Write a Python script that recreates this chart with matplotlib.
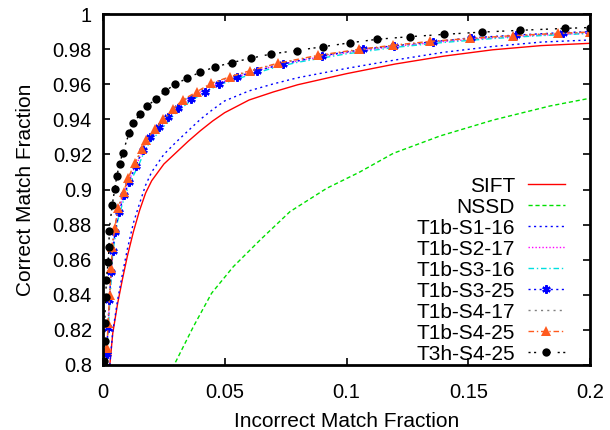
import matplotlib
matplotlib.use("Agg")
import matplotlib.pyplot as plt
from matplotlib.ticker import FuncFormatter, MultipleLocator

plt.rcParams['font.family'] = ['Liberation Sans', 'DejaVu Sans']

# ---------------- data ----------------
grid_x = [0.0015, 0.002, 0.003, 0.004, 0.006, 0.008, 0.01, 0.0125, 0.015, 0.0175,
          0.02, 0.025, 0.03, 0.035, 0.04, 0.045, 0.05, 0.06, 0.07, 0.08,
          0.1, 0.12, 0.14, 0.16, 0.18, 0.2]

sift_x = [0.0028, 0.004, 0.006, 0.008, 0.01, 0.0125, 0.015, 0.0175, 0.02, 0.025,
          0.03, 0.035, 0.04, 0.045, 0.05, 0.06, 0.07, 0.08, 0.1, 0.12, 0.14, 0.16, 0.18, 0.2]
sift_y = [0.800, 0.818, 0.835, 0.849, 0.862, 0.876, 0.888, 0.898, 0.905, 0.9145,
          0.921, 0.9275, 0.9335, 0.939, 0.9438, 0.951, 0.9556, 0.9597, 0.9660, 0.9715,
          0.9760, 0.9796, 0.9820, 0.9833]

t1s1_y = [0.800, 0.819, 0.837, 0.852, 0.866, 0.881, 0.892, 0.9025, 0.910, 0.920,
          0.927, 0.9335, 0.940, 0.9455, 0.9505, 0.9562, 0.9602, 0.9637, 0.9690, 0.9738,
          0.9782, 0.9815, 0.9840, 0.9852]

nssd_x = [0.0285, 0.0292, 0.0371, 0.0446, 0.0535, 0.0645, 0.0768, 0.0919, 0.1055,
          0.1192, 0.1384, 0.1603, 0.1836, 0.2]
nssd_y = [0.798, 0.800, 0.8218, 0.8409, 0.856, 0.8712, 0.8874, 0.9007, 0.9100,
          0.9206, 0.9305, 0.9396, 0.9476, 0.952]

# cluster lines on grid_x
t1s2_y = [0.806, 0.820, 0.844, 0.868, 0.886, 0.895, 0.903, 0.911, 0.918, 0.9258,
          0.9303, 0.938, 0.9458, 0.9512, 0.9555, 0.9592, 0.9620, 0.9664, 0.9703, 0.9733,
          0.9780, 0.9816, 0.9843, 0.9864, 0.9880, 0.9891]
t1s3_16_y = [0.803, 0.817, 0.840, 0.864, 0.882, 0.892, 0.900, 0.908, 0.915, 0.9235,
             0.928, 0.936, 0.9438, 0.9495, 0.954, 0.9578, 0.9607, 0.9652, 0.9693, 0.9725,
             0.9773, 0.9810, 0.9838, 0.9860, 0.9877, 0.9889]
t1s4_17_y = [0.807, 0.821, 0.846, 0.870, 0.888, 0.897, 0.905, 0.913, 0.920, 0.9275,
             0.932, 0.9398, 0.9473, 0.9525, 0.9567, 0.9603, 0.9630, 0.9673, 0.9711, 0.9740,
             0.9786, 0.9821, 0.9848, 0.9868, 0.9884, 0.9896]

# marker series
t1s325_x = [0.0015, 0.0020, 0.0026, 0.0033, 0.0040, 0.0050, 0.0065, 0.0088, 0.0107, 0.0135,
            0.0163, 0.0193, 0.0231, 0.0268, 0.0309, 0.036, 0.0419, 0.0478, 0.0552, 0.0634,
            0.0740, 0.0900, 0.1069, 0.1195, 0.1356, 0.151, 0.1698, 0.1888, 0.2]
t1s325_y = [0.8060, 0.8210, 0.8370, 0.8530, 0.8650, 0.8760, 0.8870, 0.8970, 0.9045, 0.9135,
            0.9225, 0.9297, 0.9358, 0.9415, 0.9462, 0.9514, 0.9557, 0.9601, 0.9643, 0.9677,
            0.9715, 0.9762, 0.9799, 0.9819, 0.9842, 0.9864, 0.9880, 0.9894, 0.9899]

t1s425_x = [0.0016, 0.0021, 0.0027, 0.0034, 0.0038, 0.0048, 0.0062, 0.0085, 0.0103, 0.013,
            0.0159, 0.0177, 0.0214, 0.0248, 0.0286, 0.0327, 0.0385, 0.0444, 0.0522, 0.0604,
            0.0719, 0.0885, 0.1053, 0.119, 0.1343, 0.1507, 0.1685, 0.187, 0.2]
t1s425_y = [0.8095, 0.8238, 0.8399, 0.8551, 0.8674, 0.8779, 0.8893, 0.8987, 0.9064, 0.9149,
            0.9229, 0.9282, 0.9345, 0.9400, 0.9457, 0.9510, 0.9557, 0.9605, 0.9643, 0.9677,
            0.9720, 0.9765, 0.9799, 0.9822, 0.9844, 0.9861, 0.9877, 0.9890, 0.9897]

t3h_x = [0.0003, 0.0007, 0.0007, 0.0011, 0.0014, 0.0021, 0.0025, 0.0025, 0.0038, 0.0048,
         0.0057, 0.0068, 0.0081, 0.0108, 0.0125, 0.0152, 0.0182, 0.0218, 0.0255, 0.0296,
         0.0346, 0.0398, 0.046, 0.0528, 0.0607, 0.069, 0.0795, 0.0905, 0.1015, 0.1127,
         0.1261, 0.1402, 0.1558, 0.1713, 0.1897, 0.2]
t3h_y = [0.802, 0.8135, 0.824, 0.8389, 0.8484, 0.8589, 0.8671, 0.8765, 0.8912, 0.9001,
         0.9079, 0.9145, 0.921, 0.9324, 0.9377, 0.9430, 0.9476, 0.9516, 0.9560, 0.9600,
         0.9634, 0.9668, 0.9698, 0.9723, 0.9748, 0.9772, 0.9792, 0.9814, 0.9836, 0.9856,
         0.9871, 0.9884, 0.9897, 0.9907, 0.9918, 0.9923]

labels = ["SIFT", "NSSD", "T1b-S1-16", "T1b-S2-17", "T1b-S3-16", "T1b-S3-25",
          "T1b-S4-17", "T1b-S4-25", "T3h-S4-25"]

# ---------------- plot ----------------
fig = plt.figure(figsize=(6.1, 4.3), dpi=100)
ax = fig.add_axes([103/610, 65/430, 487/610, 351/430])

lw = 1.0
ax.plot(sift_x, sift_y, color='#ff0000', lw=lw, ls='-', label=labels[0])
ax.plot(nssd_x, nssd_y, color='#00e000', lw=lw, dashes=(3, 2), label=labels[1])
ax.plot(sift_x, t1s1_y, color='#0000ff', lw=lw, dashes=(1.5, 2.5), label=labels[2])
ax.plot(grid_x, t1s2_y, color='#ff00ff', lw=lw, dashes=(1, 1.5), label=labels[3])
ax.plot(grid_x, t1s3_16_y, color='#00e0e0', lw=lw, dashes=(4, 2, 1, 2), label=labels[4])
ax.plot(t1s325_x, t1s325_y, color='#0000ff', lw=lw, dashes=(1.5, 2.5),
        marker=(6, 2, 0), ms=6, mew=1.6, mec='#0000ff', label=labels[5])
ax.plot(grid_x, t1s4_17_y, color='#808080', lw=lw, dashes=(1.5, 3), label=labels[6])
ax.plot(t1s425_x, t1s425_y, color='#ff5a1e', lw=lw, dashes=(4, 2, 1, 2),
        marker='^', ms=6.5, mew=0, label=labels[7])
ax.plot(t3h_x, t3h_y, color='#000000', lw=lw, dashes=(1.5, 2.5, 1.5, 5),
        marker='o', ms=6, mew=0, label=labels[8])

ax.set_xlim(0, 0.2)
ax.set_ylim(0.8, 1.0)
ax.xaxis.set_major_locator(MultipleLocator(0.05))
ax.yaxis.set_major_locator(MultipleLocator(0.02))
fmt = FuncFormatter(lambda v, p: ('%.2f' % v).rstrip('0').rstrip('.') if abs(v) > 1e-9 else '0')
ax.xaxis.set_major_formatter(fmt)
ax.yaxis.set_major_formatter(fmt)
ax.tick_params(direction='in', length=5, width=1.2, top=True, right=True,
               labelsize=14.5)
ax.tick_params(axis='x', pad=13)
ax.tick_params(axis='y', pad=8)
for s in ax.spines.values():
    s.set_linewidth(2)

ax.set_xlabel("Incorrect Match Fraction", fontsize=15, labelpad=7)
ax.set_ylabel("Correct Match Fraction", fontsize=15, labelpad=13)

leg = ax.legend(loc='lower right', bbox_to_anchor=((565 - 103) / 487, 0.004),
                frameon=False, markerfirst=False, fontsize=15,
                handlelength=1.8, handletextpad=0.6, labelspacing=0.095,
                borderaxespad=0.0, borderpad=0.0, numpoints=1)
try:
    for col in leg._legend_handle_box.get_children():
        col.align = 'right'
except Exception:
    pass

fig.savefig("out.png", dpi=100)
